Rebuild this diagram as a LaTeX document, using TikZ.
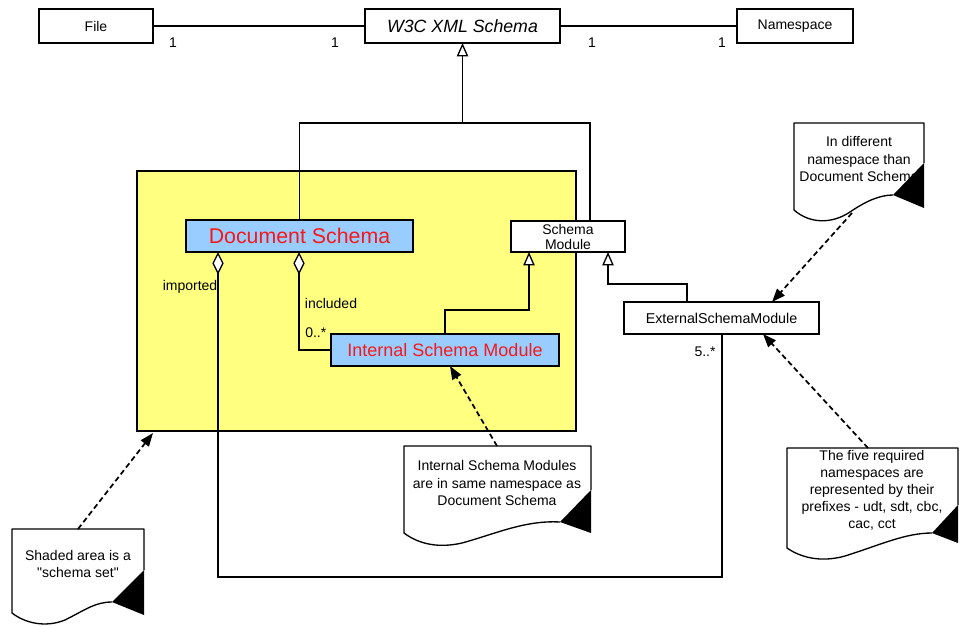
\documentclass[tikz,border=0pt]{standalone}
\usepackage{fontspec}
\setmainfont{Liberation Sans}
\usetikzlibrary{arrows.meta,calc}
\definecolor{ylw}{HTML}{FFFF80}
\definecolor{lblue}{HTML}{99CCFF}
\definecolor{dsred}{HTML}{F51A1A}
\begin{document}
\begin{tikzpicture}[x=0.75pt,y=-0.75pt,
  box/.style={draw,line width=1pt,inner sep=0pt,outer sep=0pt,align=center,font=\fontsize{10.5}{11.25}\selectfont},
  sz/.style 2 args={minimum width=#1*0.75pt,minimum height=#2*0.75pt},
  bluebox/.style={box,fill=lblue,text=dsred},
  lbl/.style={inner sep=0pt,font=\fontsize{10.5}{12}\selectfont},
  notetext/.style={inner sep=0pt,align=center,font=\fontsize{10.5}{12.8}\selectfont},
  conn/.style={line width=1pt},
  gen/.style={conn,-{Triangle[fill=white,length=10pt,width=8.5pt]}},
  agg/.style={conn,{Diamond[fill=white,length=17pt,width=8.5pt]}-},
  dep/.style={line width=1.3pt,dash pattern=on 4pt off 2.5pt,-{Triangle[length=10pt,width=7.5pt]}},
  noteline/.style={line width=1pt,line join=round}]
\useasboundingbox (0,0) rectangle (960,626);

% shaded schema set
\node[box,fill=ylw,sz={439}{260}] (yb) at (356.5,301) {};

% top row
\node[box,sz={114}{34}] (file) at (96,26) {File};
\node[box,sz={195}{34},font=\fontsize{13.3}{15}\selectfont\itshape] (w3c) at (462.5,26) {W3C XML Schema};
\node[box,sz={116}{34}] (ns) at (795,26) {Namespace};

% class boxes
\node[bluebox,sz={227}{32},font=\fontsize{16}{18}\selectfont] (ds) at (299.5,236) {Document Schema};
\node[box,fill=white,sz={114}{31}] (sm) at (568,236.5) {Schema\\Module};
\node[bluebox,sz={228}{32},font=\fontsize{13.5}{15}\selectfont] (int) at (445,350) {Internal Schema Module};
\node[box,fill=white,sz={195}{32},font=\fontsize{10.7}{12}\selectfont] (ext) at (721.5,318) {ExternalSchemaModule};

% associations along the top
\draw[conn] (file.east) -- (w3c.west);
\draw[conn] (w3c.east) -- (ns.west);
\node[lbl] (m1) at (173,43) {1};
\node[lbl] (m2) at (335,43) {1};
\node[lbl] (m3) at (592,43) {1};
\node[lbl] (m4) at (722,43) {1};

% generalizations
\coordinate (J) at ($(w3c.south)+(0,80)$);
\draw[gen] (ds.north) |- (J) -- (w3c.south);
\draw[conn] ($(sm.north east)+(-35,0)$) |- (J);
\draw[gen] (int.north) |- ($(sm.south west)+(18,58)$) -- ($(sm.south west)+(18,0)$);
\draw[gen] ($(ext.north west)+(63,0)$) |- ($(sm.south west)+(97,32)$) -- ($(sm.south west)+(97,0)$);

% aggregations
\draw[agg] ($(ds.south west)+(113,0)$) |- (int.west);
\coordinate (bend) at ($(ext.south west)+(98,243)$);
\draw[agg] ($(ds.south west)+(32,0)$) |- (bend) -- ($(ext.south west)+(98,0)$);
\node[lbl] (imp) at (190,287) {imported};
\node[lbl] (inc) at (331,303) {included};
\node[lbl,anchor=west] (zm) at (305,333) {0..*};
\node[lbl] (fm) at (705,352) {5..*};

% note: schema set
\draw[noteline,fill=white] (144,570) -- (144,529) -- (12,529) -- (12,613) .. controls (25,623) and (45,628) .. (65,620) .. controls (85,610) and (95,602) .. (112,602);
\node[notetext] (nc) at (78,564) {Shaded area is a\\\textquotedbl schema set\textquotedbl};
\fill (144,570) -- (112,602) -- (144,615) -- cycle;
\coordinate (ncTop) at (78,529);

% note: internal modules
\draw[noteline,fill=white] (591,490) -- (591,446) -- (404,446) -- (404,533) .. controls (420,545) and (440,548) .. (462,543) .. controls (495,534) and (525,520) .. (560,522);
\node[notetext] (nb) at (497,483) {Internal Schema Modules\\are in same namespace as\\Document Schema};
\fill (591,490) -- (560,522) -- (591,533) -- cycle;
\coordinate (nbTop) at (497,446);

% note: different namespace
\draw[noteline,fill=white] (924,163) -- (924,123) -- (794,123) -- (794,210) .. controls (810,224) and (832,224) .. (850,212) .. controls (866,201) and (880,195) .. (893,195);
\node[notetext] (na) at (859,159) {In different\\namespace than\\Document Schema};
\fill (924,163) -- (893,195) -- (924,208) -- cycle;
\coordinate (naBot) at (852,213);

% note: five namespaces
\draw[noteline,fill=white] (958,505) -- (958,448) -- (787,448) -- (787,548) .. controls (800,557) and (820,563) .. (845,556) .. controls (880,545) and (905,533) .. (932,533);
\node[notetext] (nd) at (872,490) {The five required\\namespaces are\\represented by their\\prefixes - udt, sdt, cbc,\\cac, cct};
\fill (958,505) -- (932,533) -- (958,543) -- cycle;
\coordinate (ndTop) at (868,448);

% dependencies
\draw[dep] (ncTop) -- ($(yb.south west)+(16,2)$);
\draw[dep] (nbTop) -- ($(int.south)+(5,0)$);
\draw[dep] (naBot) -- ($(ext.north)+(50.5,0)$);
\draw[dep] (ndTop) -- ($(ext.south)+(41.5,0)$);
\end{tikzpicture}
\end{document}
